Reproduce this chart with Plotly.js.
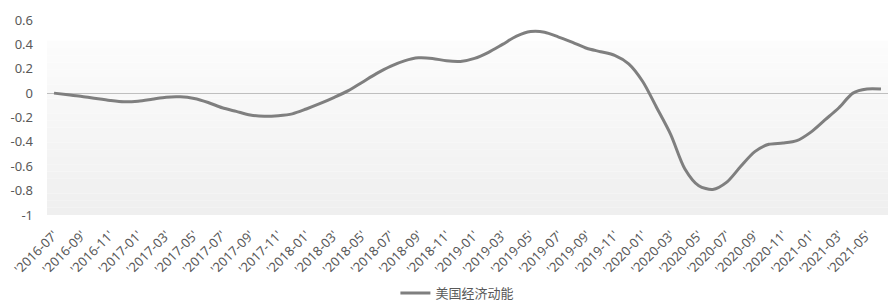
<!DOCTYPE html>
<html>
<head>
<meta charset="utf-8">
<script src="https://cdn.plot.ly/plotly-3.0.1.min.js"></script>
<style>html,body{margin:0;padding:0;background:#fff;}#chart{width:893px;height:308px;}</style>
</head>
<body>
<div id="chart"></div>
<script>
const months = [
 "'2016-07'","'2016-08'","'2016-09'","'2016-10'","'2016-11'","'2016-12'",
 "'2017-01'","'2017-02'","'2017-03'","'2017-04'","'2017-05'","'2017-06'",
 "'2017-07'","'2017-08'","'2017-09'","'2017-10'","'2017-11'","'2017-12'",
 "'2018-01'","'2018-02'","'2018-03'","'2018-04'","'2018-05'","'2018-06'",
 "'2018-07'","'2018-08'","'2018-09'","'2018-10'","'2018-11'","'2018-12'",
 "'2019-01'","'2019-02'","'2019-03'","'2019-04'","'2019-05'","'2019-06'",
 "'2019-07'","'2019-08'","'2019-09'","'2019-10'","'2019-11'","'2019-12'",
 "'2020-01'","'2020-02'","'2020-03'","'2020-04'","'2020-05'","'2020-06'",
 "'2020-07'","'2020-08'","'2020-09'","'2020-10'","'2020-11'","'2020-12'",
 "'2021-01'","'2021-02'","'2021-03'","'2021-04'","'2021-05'","'2021-06'"
];
const momentum = [
 0.00,-0.014,-0.027,-0.044,-0.06,-0.071,
 -0.066,-0.05,-0.033,-0.03,-0.044,-0.077,
 -0.12,-0.15,-0.18,-0.19,-0.185,-0.17,
 -0.13,-0.085,-0.035,0.02,0.09,0.16,
 0.22,0.265,0.29,0.285,0.265,0.26,
 0.285,0.335,0.40,0.467,0.505,0.50,
 0.46,0.417,0.368,0.34,0.31,0.24,
 0.095,-0.12,-0.34,-0.62,-0.76,-0.79,
 -0.73,-0.60,-0.48,-0.42,-0.41,-0.39,
 -0.32,-0.22,-0.12,0.0,0.033,0.033
];
const seriesName = "美国经济动能";
const yTicks = [0.6,0.4,0.2,0,-0.2,-0.4,-0.6,-0.8,-1];
const yTickText = ["0.6","0.4","0.2","0","-0.2","-0.4","-0.6","-0.8","-1"];

// background gradient bands (paper coords inside plot area)
const bands = [];
const nb = 24;
const topFrac = (0.43 - (-1)) / 1.6;
for (let k = 0; k < nb; k++) {
  const y0 = topFrac * k / nb, y1 = topFrac * (k + 1) / nb;
  const t = 1 - (k + 0.5) / nb; // 1 at bottom, 0 at top
  const c = Math.round(252 - 13 * t);
  bands.push({type:'rect', xref:'x domain', yref:'y domain', x0:0, x1:1, y0:y0, y1:y1,
    fillcolor:`rgb(${c},${c},${c})`, line:{width:0}, layer:'below'});
}

const font = {family:'"Noto Sans","Noto Sans CJK SC",sans-serif', color:'#595959'};

Plotly.newPlot('chart', [{
  x: months, y: momentum, type:'scatter', mode:'lines', name: seriesName,
  line:{color:'#7f7f7f', width:3, shape:'spline', smoothing:0.8}
}], {
  width:893, height:308,
  margin:{l:47, r:5, t:20, b:93, autoexpand:false},
  paper_bgcolor:'#ffffff', plot_bgcolor:'rgba(0,0,0,0)',
  font: Object.assign({size:12}, font),
  showlegend:true,
  legend:{orientation:'h', x:0.488, xanchor:'center', y:-0.4, yanchor:'middle',
    font:Object.assign({size:13}, font), itemwidth:30},
  xaxis:{type:'category', range:[-0.5, months.length-0.5], tick0:0, dtick:2,
    tickangle:-45, showgrid:false, zeroline:false, showline:false, ticks:'',
    ticklabelstandoff:9, tickfont:Object.assign({size:13}, font), fixedrange:true, automargin:false},
  yaxis:{range:[-1,0.6], tickvals:yTicks, ticktext:yTickText, showgrid:false,
    zeroline:true, zerolinecolor:'#bfbfbf', zerolinewidth:1, showline:false, ticks:'',
    ticklabelstandoff:13, tickfont:Object.assign({size:13}, font), fixedrange:true, automargin:false},
  shapes: bands
}, {staticPlot:true});
</script>
</body>
</html>
